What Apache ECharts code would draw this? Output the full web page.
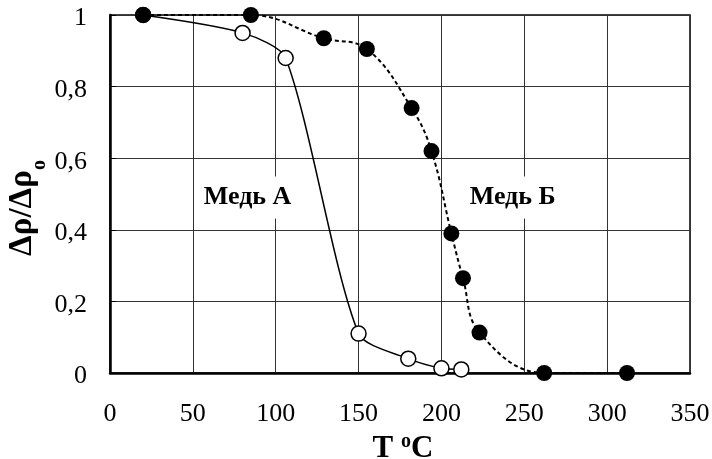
<!DOCTYPE html>
<html>
<head>
<meta charset="utf-8">
<script src="https://cdn.jsdelivr.net/npm/echarts@6/dist/echarts.min.js"></script>
<style>html,body{margin:0;padding:0;background:#fff;}#c{width:712px;height:459px;}</style>
</head>
<body>
<div id="c"></div>
<script>
const tempA = [20, 80, 106, 150, 180, 200, 212];
const valA = [1, 0.95, 0.88, 0.11, 0.04, 0.013, 0.01];
const tempB = [20, 85, 129, 155, 182, 194, 206, 213, 223, 262, 312];
const valB = [1, 1, 0.935, 0.905, 0.74, 0.62, 0.39, 0.265, 0.113, 0, 0];
const xTicks = [0, 50, 100, 150, 200, 250, 300, 350];
const yTicks = [0, 0.2, 0.4, 0.6, 0.8, 1];
const labelA = {name: 'Медь A', coord: [83, 0.49]};
const labelB = {name: 'Медь Б', coord: [243, 0.49]};

const FONT = '"Liberation Serif", "Times New Roman", serif';
const chart = echarts.init(document.getElementById('c'), null, {renderer: 'canvas'});

function pairs(xs, ys) { return xs.map((x, i) => [x, ys[i]]); }

function annotation(l) {
  return {
    name: l.name, coord: l.coord, symbol: 'rect', symbolSize: 1,
    itemStyle: {color: 'rgba(0,0,0,0)'},
    label: {
      show: true, position: 'inside', formatter: l.name,
      fontFamily: FONT, fontSize: 26, fontWeight: 'bold', color: '#000',
      backgroundColor: '#fff', padding: [8, 5, 8, 5]
    }
  };
}

const option = {
  animation: false,
  backgroundColor: '#fff',
  grid: {left: 110, right: 22, top: 15, bottom: 86, containLabel: false, outerBoundsMode: 'none',
         show: true, borderColor: '#000', borderWidth: 1.5, backgroundColor: 'transparent'},
  xAxis: {
    type: 'value', min: xTicks[0], max: xTicks[xTicks.length - 1], interval: 50,
    axisLine: {show: true, onZero: false, lineStyle: {color: '#000', width: 2.5}},
    axisTick: {show: false},
    splitLine: {show: true, lineStyle: {color: '#333', width: 1}},
    axisLabel: {fontFamily: FONT, fontSize: 26, color: '#000', margin: 28},
    name: '{a|T }{s|o}{a|C}', nameLocation: 'middle', nameGap: 42,
    nameTextStyle: {
      padding: [0, 0, 0, 6],
      rich: {
        a: {fontFamily: FONT, fontSize: 31, fontWeight: 'bold', color: '#000', lineHeight: 34},
        s: {fontFamily: FONT, fontSize: 20, fontWeight: 'bold', color: '#000', verticalAlign: 'top', lineHeight: 20}
      }
    }
  },
  yAxis: {
    type: 'value', min: yTicks[0], max: yTicks[yTicks.length - 1], interval: 0.2,
    axisLine: {show: true, onZero: false, lineStyle: {color: '#000', width: 2.5}},
    axisTick: {show: true, inside: true, length: 6, lineStyle: {color: '#000', width: 1}},
    splitLine: {show: true, lineStyle: {color: '#333', width: 1}},
    axisLabel: {
      fontFamily: FONT, fontSize: 26, color: '#000', margin: 23,
      verticalAlign: 'top', lineHeight: 7,
      formatter: v => String(Math.round(v * 10) / 10).replace('.', ',')
    }
  },
  graphic: [{
    type: 'text', x: 22, y: 208, rotation: Math.PI / 2,
    style: {
      text: '{a|Δρ/Δρ}{s|o}', align: 'center', verticalAlign: 'middle',
      rich: {
        a: {fontFamily: FONT, fontSize: 33, fontWeight: 'bold', fill: '#000', lineHeight: 56},
        s: {fontFamily: FONT, fontSize: 20, fontWeight: 'bold', fill: '#000', verticalAlign: 'bottom', lineHeight: 14}
      }
    }
  }],
  series: [
    {
      name: 'A', type: 'line', data: pairs(tempA, valA), smooth: 0.25,
      symbol: 'circle', symbolSize: 15,
      lineStyle: {color: '#000', width: 1.5},
      itemStyle: {color: '#fff', borderColor: '#000', borderWidth: 1.5},
      markPoint: {data: [annotation(labelA)], animation: false},
      clip: false,
      z: 2
    },
    {
      name: 'B', type: 'line', data: pairs(tempB, valB), smooth: 0.4,
      symbol: 'circle', symbolSize: 16,
      lineStyle: {color: '#000', width: 2, type: [4, 3]},
      itemStyle: {color: '#000', borderColor: '#000', borderWidth: 0},
      markPoint: {data: [annotation(labelB)], animation: false},
      clip: false,
      z: 3
    }
  ]
};
chart.setOption(option);
</script>
</body>
</html>
